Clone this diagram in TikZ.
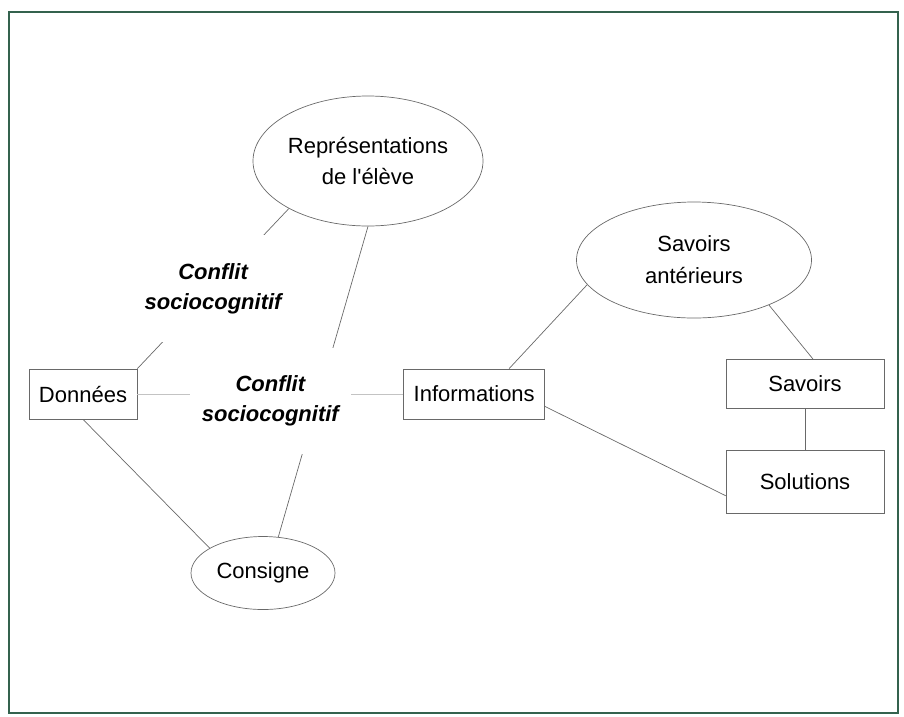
\documentclass[tikz,border=0pt]{standalone}
\usepackage{fontspec}
\setmainfont{Liberation Sans}
\newfontfamily\arial{Liberation Sans}
\usetikzlibrary{shapes.geometric,positioning}
\definecolor{cadre}{RGB}{52,98,78}
\definecolor{trait}{RGB}{105,105,105}

\begin{document}
\begin{tikzpicture}[x=1pt, y=-1pt, semithick]

    \tikzstyle{boite} = [rectangle, draw=trait, line width=0.7pt, minimum height=50pt, text centered, font=\arial\fontsize{22}{26}\selectfont]
    \tikzstyle{bulle} = [ellipse, draw=trait, line width=0.7pt, inner sep=0pt, align=center, font=\arial\fontsize{22}{32}\selectfont]
    \tikzstyle{conflit} = [fill=white, inner xsep=12pt, inner ysep=28pt, align=center, font=\arial\fontsize{22}{30}\selectfont\bfseries\itshape]
    \tikzstyle{lien} = [draw=trait, line width=0.7pt]

    \useasboundingbox (0,0) rectangle (904,716);
    \draw[cadre, line width=1.5pt] (9,12) rectangle (898,713);

    \node (rep)   [bulle, minimum width=230pt, minimum height=130pt] at (368,161)   {Représentations\\de l'élève};
    \node (don)   [boite, minimum width=108pt]                       at (83,394)    {Données};
    \node (cons)  [bulle, minimum width=144pt, minimum height=73pt]  at (263,573)   {Consigne};

    \node (info)  [boite, minimum width=141pt, right=266pt of don]                  {Informations};
    \node (sa)    [bulle, minimum width=235pt, minimum height=116pt] at (694,260)   {Savoirs\\antérieurs};
    \node (sav)   [boite, minimum width=158pt, minimum height=49pt]  at (805,384)   {Savoirs};
    \node (sol)   [boite, minimum width=158pt, minimum height=63pt, below=41pt of sav] {Solutions};

    % les deux conflits
    \path[lien]  (rep.south)       edge                                                   (cons.67);
    \path[lien]  (don.north east)  edge  node[conflit]             {Conflit\\sociocognitif} (rep.211);
    \path[lien, draw=trait!40]  (don.east)  edge  node[conflit, yshift=-7pt]  {Conflit\\sociocognitif} (info.west);
    \path[lien]  (don.south)       edge                                                   (cons.155);

    % cote droit
    \path[lien]  (info.36)         edge                                                   (sa.193);
    \path[lien]  (sa.-31)          edge                                                   (sav.72);
    \path[lien]  (sav)             edge                                                   (sol);
    \path[lien]  (info.-10)        edge                                                   (sol.190);

\end{tikzpicture}
\end{document}
